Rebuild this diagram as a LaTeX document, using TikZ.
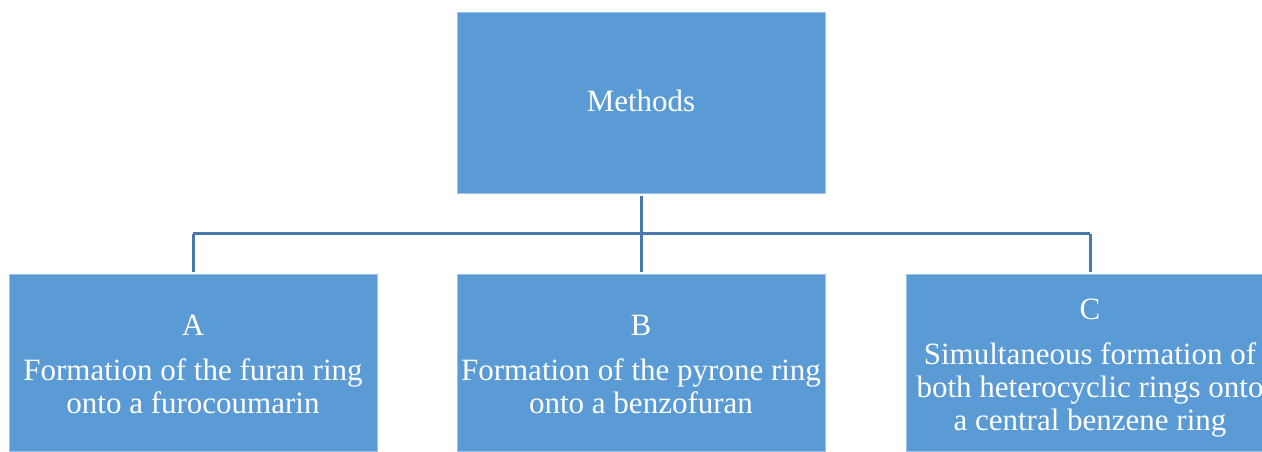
\documentclass[tikz,border=0pt]{standalone}
\usepackage{fontspec}
\setmainfont{Liberation Serif}
\definecolor{boxblue}{HTML}{5B9BD5}
\definecolor{boxedge}{HTML}{9CC2E5}
\definecolor{linkblue}{HTML}{4A78AC}
\begin{document}
\begin{tikzpicture}[x=1pt,y=1pt,
  box/.style={rectangle, fill=boxblue, draw=boxedge, line width=0.8pt, inner sep=0pt, minimum width=368pt},
  lbl/.style={text=white, font=\fontsize{31}{33}\selectfont, align=center, inner sep=0pt, anchor=base},
  link/.style={draw=linkblue, line width=3pt}]
\clip (0,0) rectangle (1262,-451);
\node[box, minimum height=181pt] (M) at (641,-102.5) {};
\node[box, minimum height=177pt] (A) at (193,-363) {};
\node[box, minimum height=177pt] (B) at (641,-363) {};
\node[box, minimum height=177pt] (C) at (1090,-363) {};
\coordinate (bus) at (0,-233.5);
\node[lbl] (tM) at (641,-111) {Methods};
\node[lbl] (tA) at (193,-413) {A\\[12pt]Formation of the furan ring\\onto a furocoumarin};
\node[lbl] (tB) at (641,-413) {B\\[12pt]Formation of the pyrone ring\\onto a benzofuran};
\node[lbl] (tC) at (1090,-430) {C\\[12pt]Simultaneous formation of\\both heterocyclic rings onto\\a central benzene ring};
\draw[link] ([yshift=-3pt]M.south) -- (M.south|-bus);
\draw[link] (A.north|-bus) -- (C.north|-bus);
\draw[link] (A.north|-bus) -- ([yshift=2pt]A.north);
\draw[link] (B.north|-bus) -- ([yshift=2pt]B.north);
\draw[link] (C.north|-bus) -- ([yshift=2pt]C.north);
\end{tikzpicture}
\end{document}
